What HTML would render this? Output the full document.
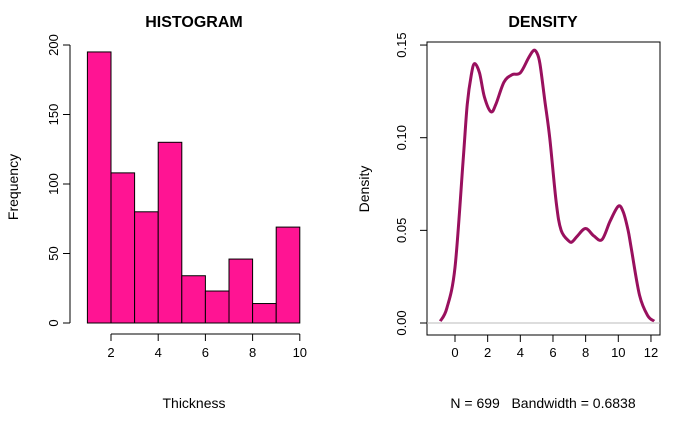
<!DOCTYPE html>
<html><head><meta charset="utf-8"><style>
body{margin:0;background:#fff}
text{font-family:"Liberation Sans",sans-serif;fill:#000}
</style></head><body>
<svg id="c" width="700" height="432" viewBox="0 0 700 432" xmlns="http://www.w3.org/2000/svg">
<text x="194" y="27" font-size="16" font-weight="bold" text-anchor="middle">HISTOGRAM</text>
<text x="543" y="27" font-size="16" font-weight="bold" text-anchor="middle">DENSITY</text>
<text x="194" y="408" font-size="14" text-anchor="middle">Thickness</text>
<text transform="translate(18,187) rotate(-90)" font-size="14" text-anchor="middle">Frequency</text>
<text x="543" y="408" font-size="14" text-anchor="middle" style="white-space:pre" xml:space="preserve">N = 699   Bandwidth = 0.6838</text>
<text transform="translate(369,189) rotate(-90)" font-size="14" text-anchor="middle">Density</text>
<rect x="427" y="42" width="233" height="293" fill="none" stroke="#000"/>
<g id="hist"></g><g id="dens"></g>
</svg>
<script>
const binEdges=[1,2,3,4,5,6,7,8,9,10];
const binCounts=[195,108,80,130,34,23,46,14,69];
const histXTicks=[2,4,6,8,10];
const histYTicks=[0,50,100,150,200];
const densX=[-0.9,-0.5,0,0.5,0.75,1,1.2,1.5,1.8,2.2,2.5,3,3.5,4,4.5,4.8,5,5.2,5.5,5.8,6.2,6.5,7,7.2,7.5,8,8.5,9,9.5,10,10.3,10.6,10.8,11.3,11.8,12.2];
const densY=[0.001,0.008,0.03,0.088,0.118,0.134,0.14,0.135,0.122,0.114,0.118,0.13,0.134,0.135,0.143,0.147,0.146,0.14,0.12,0.1,0.065,0.05,0.044,0.044,0.047,0.051,0.047,0.045,0.055,0.063,0.06,0.05,0.04,0.015,0.004,0.001];
const densXTicks=[0,2,4,6,8,10,12];
const densYTicks=["0.00","0.05","0.10","0.15"];
const NS="http://www.w3.org/2000/svg";
function mk(p,t,a){const e=document.createElementNS(NS,t);for(const k in a)e.setAttribute(k,a[k]);p.appendChild(e);return e;}
const hx=v=>87.4+(v-1)*23.6, hy=v=>323-v*1.39;
const dx=v=>455+v*16.33, dy=v=>323-v*1853;
const H=document.getElementById('hist');
binCounts.forEach((c,i)=>{const r=mk(H,'rect',{x:hx(binEdges[i]),y:hy(c),width:hx(binEdges[i+1])-hx(binEdges[i]),height:hy(0)-hy(c),fill:'#ff1493',stroke:'#000','stroke-width':1});

});
let ax=mk(H,'line',{x1:hx(2),x2:hx(10),y1:334,y2:334,stroke:'#000'});


histXTicks.forEach(t=>{mk(H,'line',{x1:hx(t),x2:hx(t),y1:334,y2:341,stroke:'#000'});
const l=mk(H,'text',{x:hx(t),y:357,'font-size':13,'text-anchor':'middle'});l.textContent=t;

});
ax=mk(H,'line',{x1:70,x2:70,y1:hy(0),y2:hy(200),stroke:'#000'});


histYTicks.forEach(t=>{mk(H,'line',{x1:63,x2:70,y1:hy(t),y2:hy(t),stroke:'#000'});
const l=mk(H,'text',{transform:`translate(58,${hy(t)}) rotate(-90)`,'font-size':13,'text-anchor':'middle'});l.textContent=t;

});
const D=document.getElementById('dens');
let bl=mk(D,'line',{x1:427,x2:660,y1:dy(0),y2:dy(0),stroke:'#bbb'});


densXTicks.forEach(t=>{mk(D,'line',{x1:dx(t),x2:dx(t),y1:335,y2:342,stroke:'#000'});
const l=mk(D,'text',{x:dx(t),y:357,'font-size':13,'text-anchor':'middle'});l.textContent=t;

});
densYTicks.forEach(t=>{const y=dy(parseFloat(t));mk(D,'line',{x1:420,x2:427,y1:y,y2:y,stroke:'#000'});
const l=mk(D,'text',{transform:`translate(406,${y}) rotate(-90)`,'font-size':13,'text-anchor':'middle'});l.textContent=t;

});
const pts=densX.map((x,i)=>[dx(x),dy(densY[i])]);
let d=`M${pts[0][0]},${pts[0][1]}`;
for(let i=0;i<pts.length-1;i++){const p0=pts[Math.max(0,i-1)],p1=pts[i],p2=pts[i+1],p3=pts[Math.min(pts.length-1,i+2)];
d+=`C${p1[0]+(p2[0]-p0[0])/6},${p1[1]+(p2[1]-p0[1])/6} ${p2[0]-(p3[0]-p1[0])/6},${p2[1]-(p3[1]-p1[1])/6} ${p2[0]},${p2[1]}`;}
const ln=mk(D,'path',{d:d,fill:'none',stroke:'#99105e','stroke-width':3});


</script>
</body></html>
